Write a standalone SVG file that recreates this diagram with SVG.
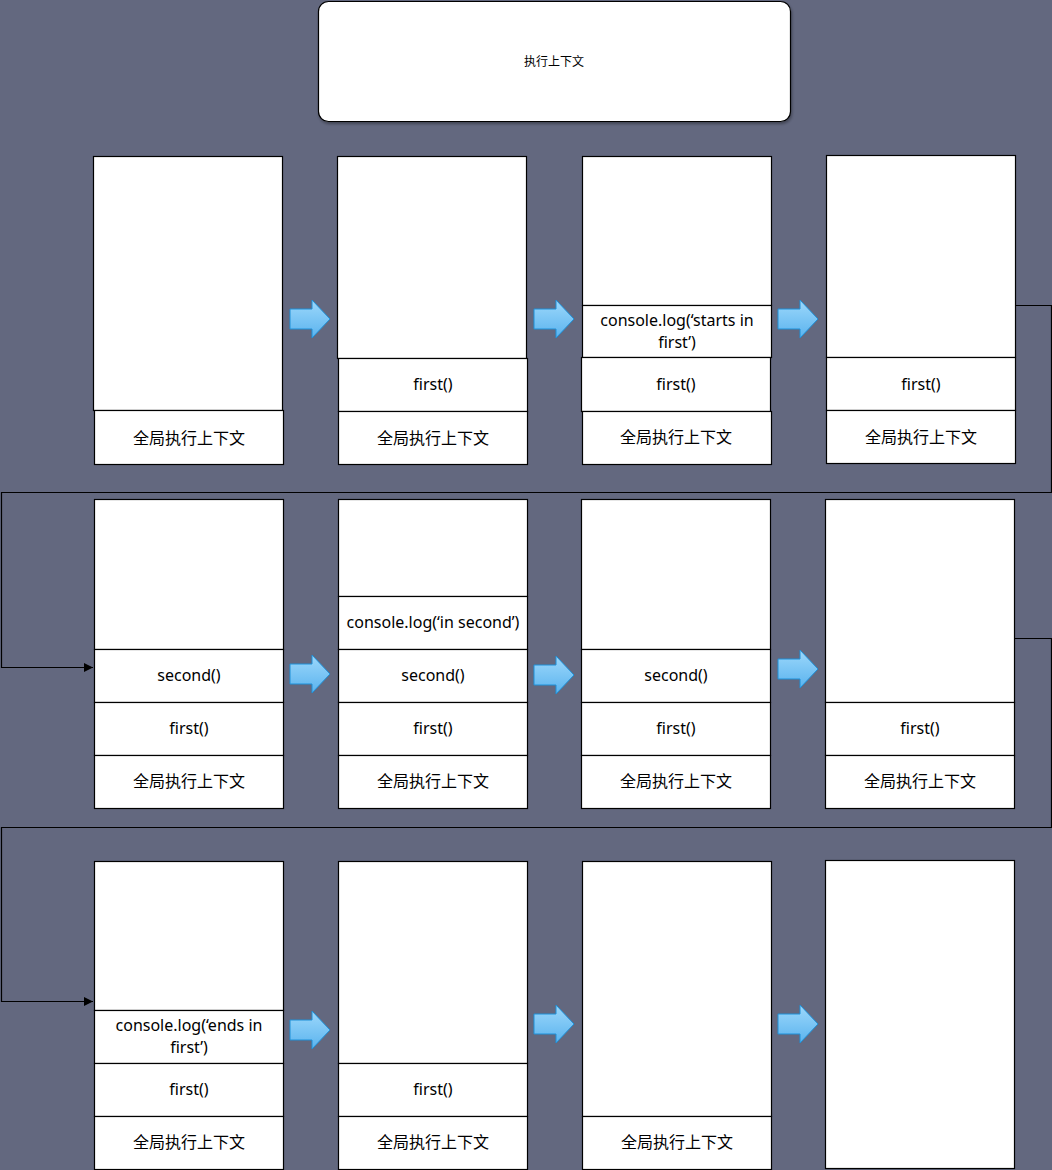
<svg xmlns="http://www.w3.org/2000/svg" width="1052" height="1170" viewBox="0 0 1052 1170">
  <defs>
    <linearGradient id="blueArrow" x1="0" y1="0" x2="0" y2="1">
      <stop offset="0" stop-color="#9dd8fb"/>
      <stop offset="1" stop-color="#5ab3ee"/>
    </linearGradient>
    <marker id="tri" viewBox="0 0 10 10" refX="10" refY="5" markerWidth="9" markerHeight="9" markerUnits="userSpaceOnUse" orient="auto">
      <path d="M0,0 L10,5 L0,10 z" fill="#000"/>
    </marker>
    <filter id="shadow" x="-5%" y="-10%" width="110%" height="130%">
      <feDropShadow dx="1" dy="2" stdDeviation="1.5" flood-color="#000" flood-opacity="0.35"/>
    </filter>
    <path id="step" d="M0,-10 H22 V-19 L40,0 L22,19 V10 H0 Z"/>
  </defs>
  <style>
    .cell { fill: #ffffff; stroke: #000000; stroke-width: 1.2; }
    .lbl { font-family: "Noto Sans", "Noto Sans CJK SC", sans-serif; font-size: 16px; fill: #000; text-anchor: middle; dominant-baseline: central; }
    .title { font-family: "Noto Sans", "Noto Sans CJK SC", sans-serif; font-size: 12px; fill: #000; text-anchor: middle; dominant-baseline: central; }
    .wire { fill: none; stroke: #000; stroke-width: 1.2; }
    .step { fill: url(#blueArrow); stroke: #1e90d8; stroke-width: 1; }
  </style>

  <rect width="1052" height="1170" fill="#63687f"/>

  <g id="title">
    <rect x="318.5" y="1.5" width="472" height="120" rx="10" ry="10" fill="#fff" stroke="#000" stroke-width="1.2" filter="url(#shadow)"/>
    <text class="title" x="554" y="61">执行上下文</text>
  </g>

  <!-- row 1 -->
  <g id="s1">
    <rect class="cell" x="93.5" y="156.5" width="189" height="254"/>
    <rect class="cell" x="94.5" y="410.5" width="189" height="54"/>
    <text class="lbl" x="189" y="438">全局执行上下文</text>
  </g>
  <g id="s2">
    <rect class="cell" x="337.5" y="156.5" width="189" height="202"/>
    <rect class="cell" x="338.5" y="358.5" width="189" height="53"/>
    <text class="lbl" x="433" y="384">first()</text>
    <rect class="cell" x="338.5" y="411.5" width="189" height="53"/>
    <text class="lbl" x="433" y="438">全局执行上下文</text>
  </g>
  <g id="s3">
    <rect class="cell" x="582.5" y="156.5" width="189" height="149"/>
    <rect class="cell" x="582.5" y="305.5" width="189" height="52"/>
    <text class="lbl" x="677" y="320">console.log(‘starts in</text>
    <text class="lbl" x="677" y="342">first’)</text>
    <rect class="cell" x="581.5" y="357.5" width="189" height="54"/>
    <text class="lbl" x="676" y="384">first()</text>
    <rect class="cell" x="582.5" y="411.5" width="189" height="53"/>
    <text class="lbl" x="676" y="437">全局执行上下文</text>
  </g>
  <g id="s4">
    <rect class="cell" x="826.5" y="155.5" width="189" height="202"/>
    <rect class="cell" x="826.5" y="357.5" width="189" height="53"/>
    <text class="lbl" x="921" y="384">first()</text>
    <rect class="cell" x="826.5" y="410.5" width="189" height="53"/>
    <text class="lbl" x="921" y="437">全局执行上下文</text>
  </g>

  <!-- row 2 -->
  <g id="s5">
    <rect class="cell" x="94.5" y="499.5" width="189" height="150"/>
    <rect class="cell" x="94.5" y="649.5" width="189" height="53"/>
    <text class="lbl" x="189" y="675">second()</text>
    <rect class="cell" x="94.5" y="702.5" width="189" height="53"/>
    <text class="lbl" x="189" y="728">first()</text>
    <rect class="cell" x="94.5" y="755.5" width="189" height="53"/>
    <text class="lbl" x="189" y="781">全局执行上下文</text>
  </g>
  <g id="s6">
    <rect class="cell" x="338.5" y="499.5" width="189" height="97"/>
    <rect class="cell" x="338.5" y="596.5" width="189" height="53"/>
    <text class="lbl" x="433" y="622">console.log(‘in second’)</text>
    <rect class="cell" x="338.5" y="649.5" width="189" height="53"/>
    <text class="lbl" x="433" y="675">second()</text>
    <rect class="cell" x="338.5" y="702.5" width="189" height="53"/>
    <text class="lbl" x="433" y="728">first()</text>
    <rect class="cell" x="338.5" y="755.5" width="189" height="53"/>
    <text class="lbl" x="433" y="781">全局执行上下文</text>
  </g>
  <g id="s7">
    <rect class="cell" x="581.5" y="499.5" width="189" height="150"/>
    <rect class="cell" x="581.5" y="649.5" width="189" height="53"/>
    <text class="lbl" x="676" y="675">second()</text>
    <rect class="cell" x="581.5" y="702.5" width="189" height="53"/>
    <text class="lbl" x="676" y="728">first()</text>
    <rect class="cell" x="581.5" y="755.5" width="189" height="53"/>
    <text class="lbl" x="676" y="781">全局执行上下文</text>
  </g>
  <g id="s8">
    <rect class="cell" x="825.5" y="499.5" width="189" height="203"/>
    <rect class="cell" x="825.5" y="702.5" width="189" height="53"/>
    <text class="lbl" x="920" y="728">first()</text>
    <rect class="cell" x="825.5" y="755.5" width="189" height="53"/>
    <text class="lbl" x="920" y="781">全局执行上下文</text>
  </g>

  <!-- row 3 -->
  <g id="s9">
    <rect class="cell" x="94.5" y="861.5" width="189" height="149"/>
    <rect class="cell" x="94.5" y="1010.5" width="189" height="53"/>
    <text class="lbl" x="189" y="1025">console.log(‘ends in</text>
    <text class="lbl" x="189" y="1047">first’)</text>
    <rect class="cell" x="94.5" y="1063.5" width="189" height="53"/>
    <text class="lbl" x="189" y="1089">first()</text>
    <rect class="cell" x="94.5" y="1116.5" width="189" height="53"/>
    <text class="lbl" x="189" y="1142">全局执行上下文</text>
  </g>
  <g id="s10">
    <rect class="cell" x="338.5" y="861.5" width="189" height="202"/>
    <rect class="cell" x="338.5" y="1063.5" width="189" height="53"/>
    <text class="lbl" x="433" y="1089">first()</text>
    <rect class="cell" x="338.5" y="1116.5" width="189" height="53"/>
    <text class="lbl" x="433" y="1142">全局执行上下文</text>
  </g>
  <g id="s11">
    <rect class="cell" x="582.5" y="861.5" width="189" height="255"/>
    <rect class="cell" x="582.5" y="1116.5" width="189" height="53"/>
    <text class="lbl" x="677" y="1142">全局执行上下文</text>
  </g>
  <g id="s12">
    <rect class="cell" x="825.5" y="860.5" width="189" height="308"/>
  </g>

  <!-- connectors -->
  <g id="connectors">
    <path class="wire" d="M1015,305.5 H1051.5 V492.5 H1.5 V667.5 H93" marker-end="url(#tri)"/>
    <path class="wire" d="M1014,638.5 H1051.5 V827.5 H1.5 V1001.5 H93" marker-end="url(#tri)"/>
    <use href="#step" class="step" x="290" y="319"/>
    <use href="#step" class="step" x="534" y="319"/>
    <use href="#step" class="step" x="778" y="319"/>
    <use href="#step" class="step" x="290" y="674"/>
    <use href="#step" class="step" x="534" y="675"/>
    <use href="#step" class="step" x="778" y="669"/>
    <use href="#step" class="step" x="290" y="1030"/>
    <use href="#step" class="step" x="534" y="1024"/>
    <use href="#step" class="step" x="778" y="1024"/>
  </g>
</svg>
